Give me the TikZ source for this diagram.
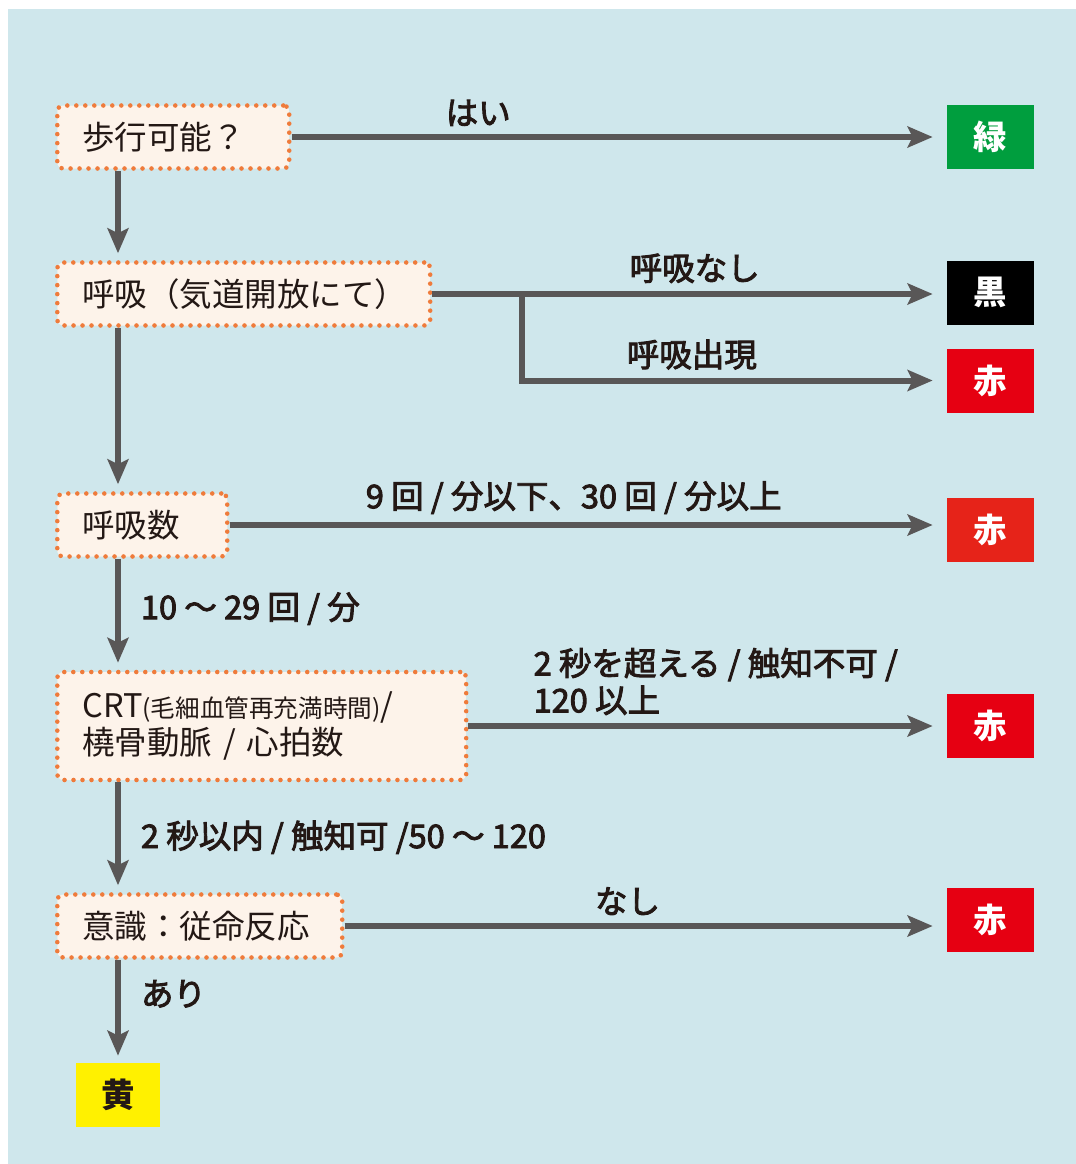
\documentclass[tikz,border=0pt]{standalone}
\usepackage{fontspec}
\setmainfont{Noto Sans CJK JP}
\newfontfamily\sayfont{Noto Sans CJK JP}[FakeBold=2.8]
\usepackage{tikz}
\usetikzlibrary{arrows.meta, positioning, calc}
\definecolor{bgblue}{HTML}{CFE7EC}
\definecolor{boxfill}{HTML}{FDF3EA}
\definecolor{dotorange}{HTML}{EF7B3B}
\definecolor{arrowgray}{HTML}{595757}
\definecolor{inkdark}{HTML}{231815}
\definecolor{tgreen}{HTML}{009E3E}
\definecolor{tred}{HTML}{E60012}
\definecolor{tred2}{HTML}{E62319}
\definecolor{tyellow}{HTML}{FFF100}

\begin{document}
\begin{tikzpicture}
	[
	x = 0.02cm, y = -0.02cm,
	every node/.style = {font = \fontsize{18.5pt}{21pt}\selectfont, text = inkdark},
	question/.style = {
		draw = dotorange, fill = boxfill, line width = 2.6pt,
		dash pattern = on 0pt off 0.18cm, line cap = round,
		rounded corners = 0.12cm, anchor = west, align = left,
		inner xsep = 0.5cm, inner ysep = 0cm, minimum height = 1.26cm
	},
	tag/.style = {
		minimum width = 1.74cm, minimum height = 1.28cm, inner sep = 0cm,
		text = white, font = \fontsize{19pt}{21pt}\selectfont\bfseries
	},
	tip/.style = {
		-{Stealth[length=0.5cm, width=0.42cm, inset=0.1cm]},
		draw = arrowgray, line width = 0.12cm, shorten > = 0.28cm
	},
	drop/.style = {tip, shorten > = 0.14cm},
	say/.style = {font = \fontsize{18.5pt}{21pt}\sayfont, inner sep = 0cm}
	]
	
	\useasboundingbox (0, 0) rectangle (1076, 1164);
	\fill[bgblue] (8, 9) rectangle (1076, 1164);
	
	\node[question, text width = 3.64cm] (walk) at (55, 137) {歩行可能？};
	\node[question, text width = 6.46cm] (airway) at (55, 294) {呼吸（気道開放にて）};
	\node[question, text width = 2.4cm] (rate) at (55, 525) {呼吸数};
	\node[question, text width = 7.18cm, minimum height = 2.16cm] (crt) at (55, 726) {CRT{\fontsize{14pt}{16pt}\selectfont(毛細血管再充満時間)}/\\橈骨動脈 / 心拍数};
	\node[question, text width = 4.7cm] (obey) at (55, 926) {意識：従命反応};
	
	\node[tag, fill = tgreen] (green) at (990.5, 137) {緑};
	\node[tag, fill = black] (black) at (990.5, 292.5) {黒};
	\node[tag, fill = tred] (red1) at (990.5, 380.5) {赤};
	\node[tag, fill = tred2] (red2) at (990.5, 529.5) {赤};
	\node[tag, fill = tred] (red3) at (990.5, 726) {赤};
	\node[tag, fill = tred] (red4) at (990.5, 920) {赤};
	\node[tag, fill = tyellow, text = inkdark, minimum width = 1.68cm] (yellow) at (118, 1095) {黄};
	\coordinate (split) at (522, 294);
	
	\draw[tip] (walk.east) -- node[say, above = 0.16cm, pos = 0.285] {はい} (walk.east -| green.west);
	\draw[tip] (airway.east) -- node[say, above = 0.16cm, pos = 0.51] {呼吸なし} (airway.east -| black.west);
	\draw[tip] (split) |- node[say, above = 0.16cm, pos = 0.70] {呼吸出現} (red1.west);
	\draw[tip] (rate.east) -- node[say, above = 0.16cm, pos = 0.48] {9 回 / 分以下、30 回 / 分以上} (rate.east -| red2.west);
	\draw[tip] (crt.east) -- node[say, anchor = south west, yshift = 0.16cm, pos = 0.13, align = left] {2 秒を超える / 触知不可 /\\120 以上} (red3.west);
	\draw[tip] (obey.east) -- node[say, above = 0.16cm, pos = 0.47] {なし} (obey.east -| red4.west);
	\draw[drop] (walk.south -| yellow.north) -- (airway.north -| yellow.north);
	\draw[drop] (airway.south -| yellow.north) -- (rate.north -| yellow.north);
	\draw[drop] (rate.south -| yellow.north) -- node[say, right = 0.4cm, pos = 0.45] {10 ～ 29 回 / 分} (crt.north -| yellow.north);
	\draw[drop] (crt.south -| yellow.north) -- node[say, right = 0.4cm, pos = 0.5] {2 秒以内 / 触知可 /50 ～ 120} (obey.north -| yellow.north);
	\draw[drop] (obey.south -| yellow.north) -- node[say, right = 0.4cm, pos = 0.33] {あり} (yellow);
\end{tikzpicture}
\end{document}
